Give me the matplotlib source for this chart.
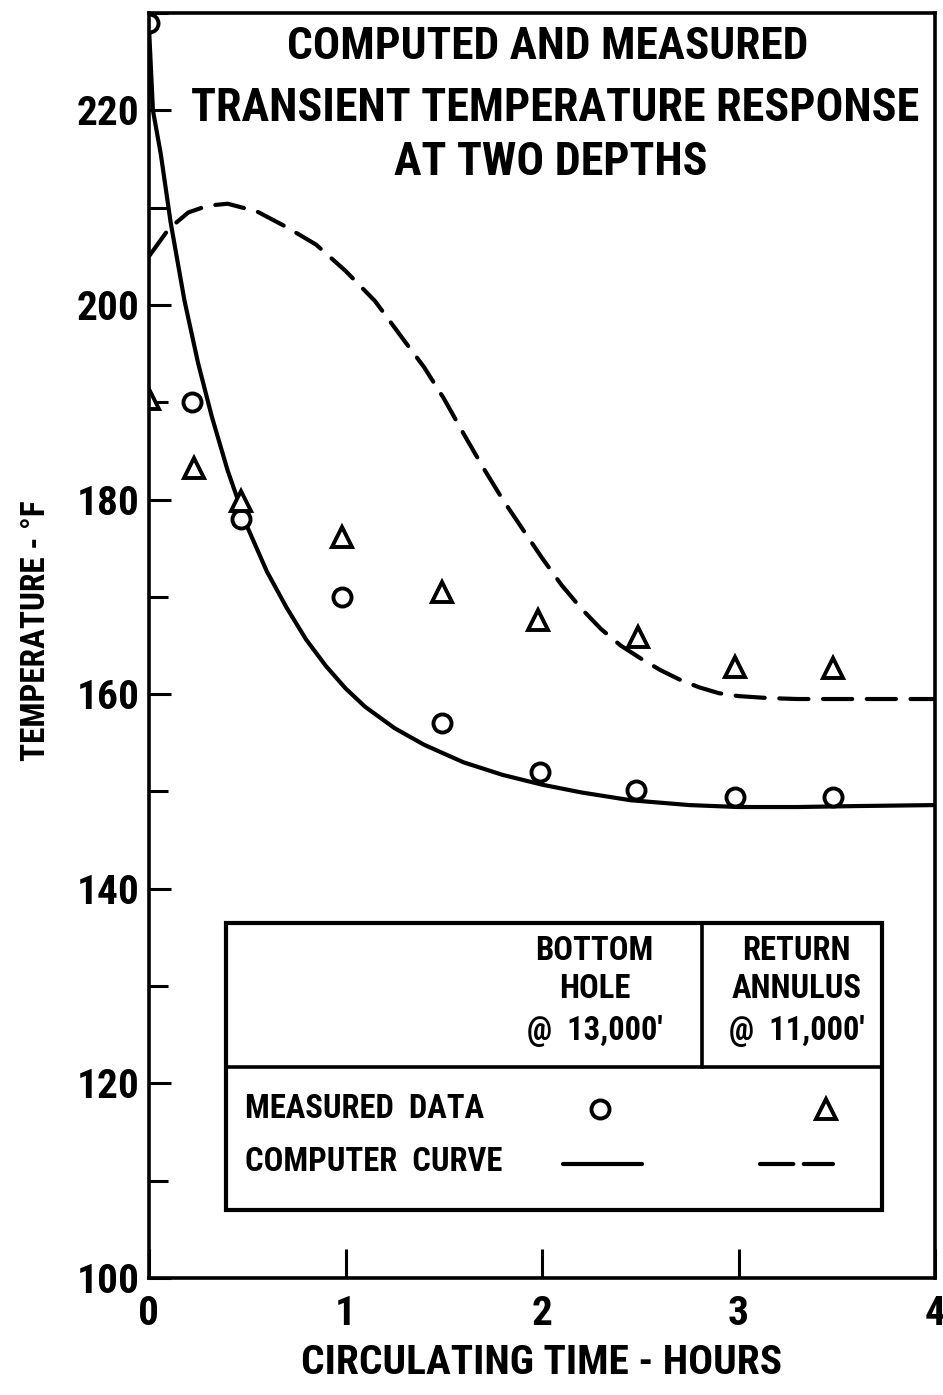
import matplotlib
matplotlib.use("Agg")
import matplotlib.pyplot as plt
import matplotlib.patheffects as pe
from matplotlib import font_manager as fm
from matplotlib.ticker import MultipleLocator
from matplotlib.patches import Rectangle

# measured data - bottom hole @ 13,000'
hole_t = [0.0, 0.22, 0.47, 0.98, 1.49, 1.99, 2.48, 2.98, 3.48]
hole_temp = [229.0, 190.0, 178.0, 170.0, 157.0, 152.0, 150.2, 149.4, 149.4]

# measured data - return annulus @ 11,000'
ann_t = [0.0, 0.23, 0.47, 0.98, 1.49, 1.98, 2.49, 2.98, 3.48]
ann_temp = [190.3, 183.2, 179.8, 176.2, 170.5, 167.6, 165.9, 162.8, 162.7]

# computer curve - bottom hole (solid)
hole_curve_t = [0, 0.02, 0.06, 0.11, 0.18, 0.25, 0.32, 0.4, 0.5, 0.6, 0.7, 0.8, 0.9,
                1.0, 1.1, 1.25, 1.4, 1.6, 1.8, 2.0, 2.2, 2.45, 2.75, 3.0, 3.3, 3.6, 4.0]
hole_curve = [228.5, 220.0, 215.5, 208.5, 200.5, 194.0, 188.5, 183.0, 177.2, 172.6, 168.9, 165.6, 162.9,
              160.6, 158.7, 156.5, 154.8, 153.0, 151.7, 150.7, 149.9, 149.1, 148.6, 148.4, 148.4, 148.5, 148.6]

# computer curve - return annulus (dashed)
ann_curve_t = [0, 0.1, 0.2, 0.3, 0.4, 0.55, 0.7, 0.85, 1.0, 1.15, 1.3, 1.4, 1.5, 1.6, 1.7, 1.8,
               1.9, 2.0, 2.1, 2.2, 2.3, 2.4, 2.5, 2.6, 2.7, 2.8, 2.9, 3.0, 3.15, 3.3, 3.6, 4.0]
ann_curve = [205.0, 207.8, 209.5, 210.2, 210.4, 209.6, 208.0, 206.2, 203.5, 200.4, 196.3, 193.6, 190.4,
             186.8, 183.3, 180.0, 177.0, 174.0, 171.2, 168.8, 166.7, 165.0, 163.7, 162.5, 161.5, 160.7,
             160.1, 159.8, 159.6, 159.5, 159.5, 159.5]

x_ticks = [0, 1, 2, 3, 4]
y_ticks = [100, 120, 140, 160, 180, 200, 220]
title_lines = ['COMPUTED AND MEASURED', 'TRANSIENT TEMPERATURE RESPONSE', 'AT TWO DEPTHS']
col_heads = [['BOTTOM', 'HOLE', "@  13,000\u2032"], ['RETURN', 'ANNULUS', "@  11,000\u2032"]]
row_heads = ['MEASURED  DATA', 'COMPUTER  CURVE']


# pick a condensed bold face if one is installed
candidates = ['Roboto Condensed', 'Fira Sans Condensed', 'PT Sans Narrow', 'IBM Plex Sans Condensed',
              'Barlow Condensed', 'Archivo Narrow', 'Asap Condensed', 'Encode Sans Condensed',
              'Liberation Sans Narrow', 'Open Sans Condensed', 'Sofia Sans Condensed', 'Saira Condensed']
weights = {}
for f in fm.fontManager.ttflist:
    try:
        w = int(f.weight)
    except (TypeError, ValueError):
        w = 700 if 'bold' in str(f.weight).lower() else 400
    if f.style == 'normal':
        weights.setdefault(f.name, set()).add(w)
font, has_bold = None, True
for name in candidates:
    if any(w >= 600 for w in weights.get(name, ())):
        font = name
        break
if font is None:
    for name in candidates:
        if name in weights:
            font, has_bold = name, False
            break
if font is None:
    font = 'DejaVu Sans'
plt.rcParams['font.family'] = [font, 'DejaVu Sans']
plt.rcParams['font.weight'] = 'heavy'
plt.rcParams['axes.labelweight'] = 'heavy'
fx = [] if has_bold else [pe.withStroke(linewidth=1.3, foreground='k')]

fig = plt.figure(figsize=(9.43, 13.95), dpi=100)
ax = fig.add_axes([149/943, 1 - 1278/1395, 786/943, 1265/1395])
renderer = fig.canvas.get_renderer()


def fit(t, target, vertical=False):
    bb = t.get_window_extent(renderer)
    cur = bb.height if vertical else bb.width
    t.set_fontsize(t.get_fontsize() * target / cur)
    t.set_path_effects(fx)


ax.plot(hole_curve_t, hole_curve, color='k', lw=3, solid_capstyle='round')
ax.plot(ann_curve_t, ann_curve, color='k', lw=3, dashes=(7, 3.5), dash_capstyle='round')
ax.plot(hole_t, hole_temp, 'o', ms=13, mfc='white', mec='k', mew=2.8, ls='none')
ax.plot(ann_t, ann_temp, '^', ms=15, mfc='white', mec='k', mew=2.8, ls='none')

ax.set_xlim(0, 4)
ax.set_ylim(100, 230)
ax.set_xticks(x_ticks)
ax.set_yticks(y_ticks)
ax.yaxis.set_minor_locator(MultipleLocator(10))
for s in ax.spines.values():
    s.set_linewidth(2.6)

# tick label size from the width of "220"
probe = fig.text(0, 0, '220', fontsize=30)
tick_size = 30 * 63 / probe.get_window_extent(renderer).width
probe.remove()
ax.tick_params(axis='y', which='major', direction='in', length=16, width=2.2, labelsize=tick_size, pad=7)
ax.tick_params(axis='y', which='minor', direction='in', length=14, width=2.2)
ax.tick_params(axis='x', direction='in', length=21, width=2.2, labelsize=tick_size, pad=12)
for lab in ax.get_xticklabels() + ax.get_yticklabels():
    lab.set_path_effects(fx)

xl = ax.set_xlabel('CIRCULATING TIME - HOURS', fontsize=30, fontweight='heavy')
ax.xaxis.set_label_coords(0.5, -0.052)
yl = ax.set_ylabel('TEMPERATURE - \u00b0F', fontsize=24, fontweight='heavy')
ax.yaxis.set_label_coords(-0.124, 0.512)
fit(xl, 480)
fit(yl, 262, vertical=True)

# title inside the plot
for txt, xx, yy, w in zip(title_lines, [0.507, 0.517, 0.511], [0.973, 0.925, 0.882], [520, 728, 313]):
    t = ax.text(xx, yy, txt, transform=ax.transAxes, ha='center', va='center', fontsize=30)
    fit(t, w)

# legend table
x0, x1, y0, y1, ymid, xdiv = 0.098, 0.9326, 0.0538, 0.2806, 0.1668, 0.7036
ax.add_patch(Rectangle((x0, y0), x1 - x0, y1 - y0, transform=ax.transAxes,
                       fill=False, lw=3, ec='k', zorder=5))
ax.plot([x0, x1], [ymid, ymid], transform=ax.transAxes, color='k', lw=2.6, zorder=5)
ax.plot([xdiv, xdiv], [ymid, y1], transform=ax.transAxes, color='k', lw=2.6, zorder=5)

legend_texts = []
row_y = [0.2585, 0.2285, 0.1953]
for heads, xx in zip(col_heads, [0.567, 0.824]):
    for txt, yy in zip(heads, row_y):
        legend_texts.append(ax.text(xx, yy, txt, transform=ax.transAxes,
                                    ha='center', va='center', fontsize=24))
r1 = ax.text(0.122, 0.1336, row_heads[0], transform=ax.transAxes, ha='left', va='center', fontsize=24)
r2 = ax.text(0.122, 0.0917, row_heads[1], transform=ax.transAxes, ha='left', va='center', fontsize=24)
fit(r2, 258)
for t in legend_texts + [r1]:
    t.set_fontsize(r2.get_fontsize())
    t.set_path_effects(fx)

ax.plot([0.574], [0.1336], 'o', transform=ax.transAxes, ms=13, mfc='white', mec='k', mew=2.8)
ax.plot([0.861], [0.1336], '^', transform=ax.transAxes, ms=15, mfc='white', mec='k', mew=2.8)
ax.plot([0.527, 0.627], [0.0901, 0.0901], transform=ax.transAxes, color='k', lw=3, solid_capstyle='round')
ax.plot([0.777, 0.870], [0.0901, 0.0901], transform=ax.transAxes, color='k', lw=3,
        dashes=(8, 2.5), dash_capstyle='round')

ax.set_xlim(0, 4)
ax.set_ylim(100, 230)

fig.savefig('out.png', dpi=100, facecolor='white')
